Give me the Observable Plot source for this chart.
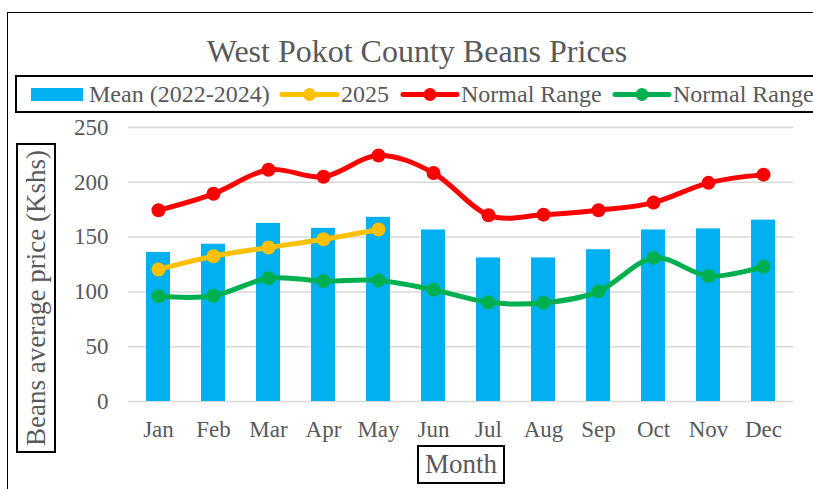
<!DOCTYPE html>
<html>
<head>
<meta charset="utf-8">
<script src="https://cdn.jsdelivr.net/npm/d3@7"></script>
<script src="https://cdn.jsdelivr.net/npm/@observablehq/plot@0.6"></script>
<style>
  html, body { margin: 0; padding: 0; background: #fff; }
  #wrap { position: relative; width: 813px; height: 489px; overflow: hidden; font-family: "Liberation Serif", "Times New Roman", serif; color: #595959; }
  .abs { position: absolute; }
  #frame { left: 7px; top: 12px; width: 900px; height: 600px; border: 1.5px solid #000; box-sizing: border-box; }
  #title { left: 0; width: 834px; top: 31px; text-align: center; font-size: 32px; line-height: 40px; white-space: nowrap; }
  #legend { left: 15px; top: 75px; width: 900px; height: 38px; border: 2.5px solid #000; box-sizing: border-box; }
  .ltext { font-size: 24px; line-height: 24px; white-space: nowrap; top: 82px; }
  #ytitle { left: -119px; top: 278px; width: 310px; height: 40px; border: 2px solid #000; box-sizing: border-box; transform: rotate(-90deg); text-align: center; font-size: 27px; line-height: 36px; white-space: nowrap; }
  #xtitle { left: 417px; top: 445px; width: 88px; height: 39px; border: 2px solid #000; box-sizing: border-box; text-align: center; font-size: 27px; line-height: 35px; white-space: nowrap; }
  #plot { left: 0; top: 0; }
  #plot svg text { font-family: "Liberation Serif", "Times New Roman", serif; }
</style>
</head>
<body>
<div id="wrap">
  <div id="plot" class="abs"></div>
  <div id="frame" class="abs"></div>
  <div id="title" class="abs">West Pokot County Beans Prices</div>
  <div id="legend" class="abs"></div>
  <svg class="abs" style="left:0;top:0" width="813" height="130">
    <rect x="31" y="88" width="52" height="13" fill="#00B0F0"></rect>
    <line x1="282" x2="337" y1="94.5" y2="94.5" stroke="#FFC000" stroke-width="5" stroke-linecap="round"></line>
    <circle cx="309.5" cy="94.5" r="6.5" fill="#FFC000"></circle>
    <line x1="403" x2="457" y1="94.5" y2="94.5" stroke="#FF0000" stroke-width="5" stroke-linecap="round"></line>
    <circle cx="430" cy="94.5" r="6.5" fill="#FF0000"></circle>
    <line x1="615" x2="669" y1="94.5" y2="94.5" stroke="#00B050" stroke-width="5" stroke-linecap="round"></line>
    <circle cx="642" cy="94.5" r="6.5" fill="#00B050"></circle>
  </svg>
  <div class="abs ltext" style="left:89px">Mean (2022-2024)</div>
  <div class="abs ltext" style="left:341px">2025</div>
  <div class="abs ltext" style="left:461px">Normal Range</div>
  <div class="abs ltext" style="left:673px">Normal Range</div>
  <div id="ytitle" class="abs">Beans average price (Kshs)</div>
  <div id="xtitle" class="abs">Month</div>
</div>
<script>
const months = ["Jan","Feb","Mar","Apr","May","Jun","Jul","Aug","Sep","Oct","Nov","Dec"];
const meanValues = [136, 143.5, 162.5, 158, 168, 156.5, 131, 131, 138.5, 156.5, 157.5, 165.5];
const months2025 = ["Jan","Feb","Mar","Apr","May"];
const values2025 = [120.5, 132.5, 140.5, 148, 157];
const upperRange = [174.5, 189.5, 211.5, 205, 224.5, 208.5, 170, 170.5, 174.5, 181.5, 199.5, 207];
const lowerRange = [96, 96.5, 112.5, 110, 110.5, 102, 90.5, 90, 100.5, 131, 114.5, 123];
const yTicks = [0, 50, 100, 150, 200, 250];

const meanData = months.map((m, i) => ({month: m, value: meanValues[i]}));
const data2025 = months2025.map((m, i) => ({month: m, value: values2025[i]}));
const upperData = months.map((m, i) => ({month: m, value: upperRange[i]}));
const lowerData = months.map((m, i) => ({month: m, value: lowerRange[i]}));

const serif = "Liberation Serif";

const chart = Plot.plot({
  width: 813,
  height: 489,
  marginLeft: 128,
  marginRight: 20,
  marginTop: 127,
  marginBottom: 88,
  style: {fontFamily: serif, color: "#595959", background: "transparent", overflow: "visible"},
  x: {domain: months, type: "band", paddingInner: 0.567, paddingOuter: 0.2835},
  y: {domain: [0, 250]},
  marks: [
    Plot.gridY(yTicks, {stroke: "#D9D9D9", strokeOpacity: 1, strokeWidth: 1.5}),
    Plot.barY(meanData, {x: "month", y: "value", fill: "#00B0F0"}),
    Plot.lineY(upperData, {x: "month", y: "value", stroke: "#FF0000", strokeWidth: 5, curve: "cardinal"}),
    Plot.dot(upperData, {x: "month", y: "value", fill: "#FF0000", r: 7}),
    Plot.lineY(data2025, {x: "month", y: "value", stroke: "#FFC000", strokeWidth: 5, curve: "cardinal"}),
    Plot.dot(data2025, {x: "month", y: "value", fill: "#FFC000", r: 7}),
    Plot.lineY(lowerData, {x: "month", y: "value", stroke: "#00B050", strokeWidth: 5, curve: "cardinal"}),
    Plot.dot(lowerData, {x: "month", y: "value", fill: "#00B050", r: 7}),
    Plot.axisY(yTicks, {tickSize: 0, tickPadding: 20, fontSize: 23, fontFamily: serif, label: null}),
    Plot.axisX({tickSize: 0, tickPadding: 19, fontSize: 23, fontFamily: serif, label: null})
  ]
});
document.getElementById("plot").appendChild(chart);
</script>
</body>
</html>
